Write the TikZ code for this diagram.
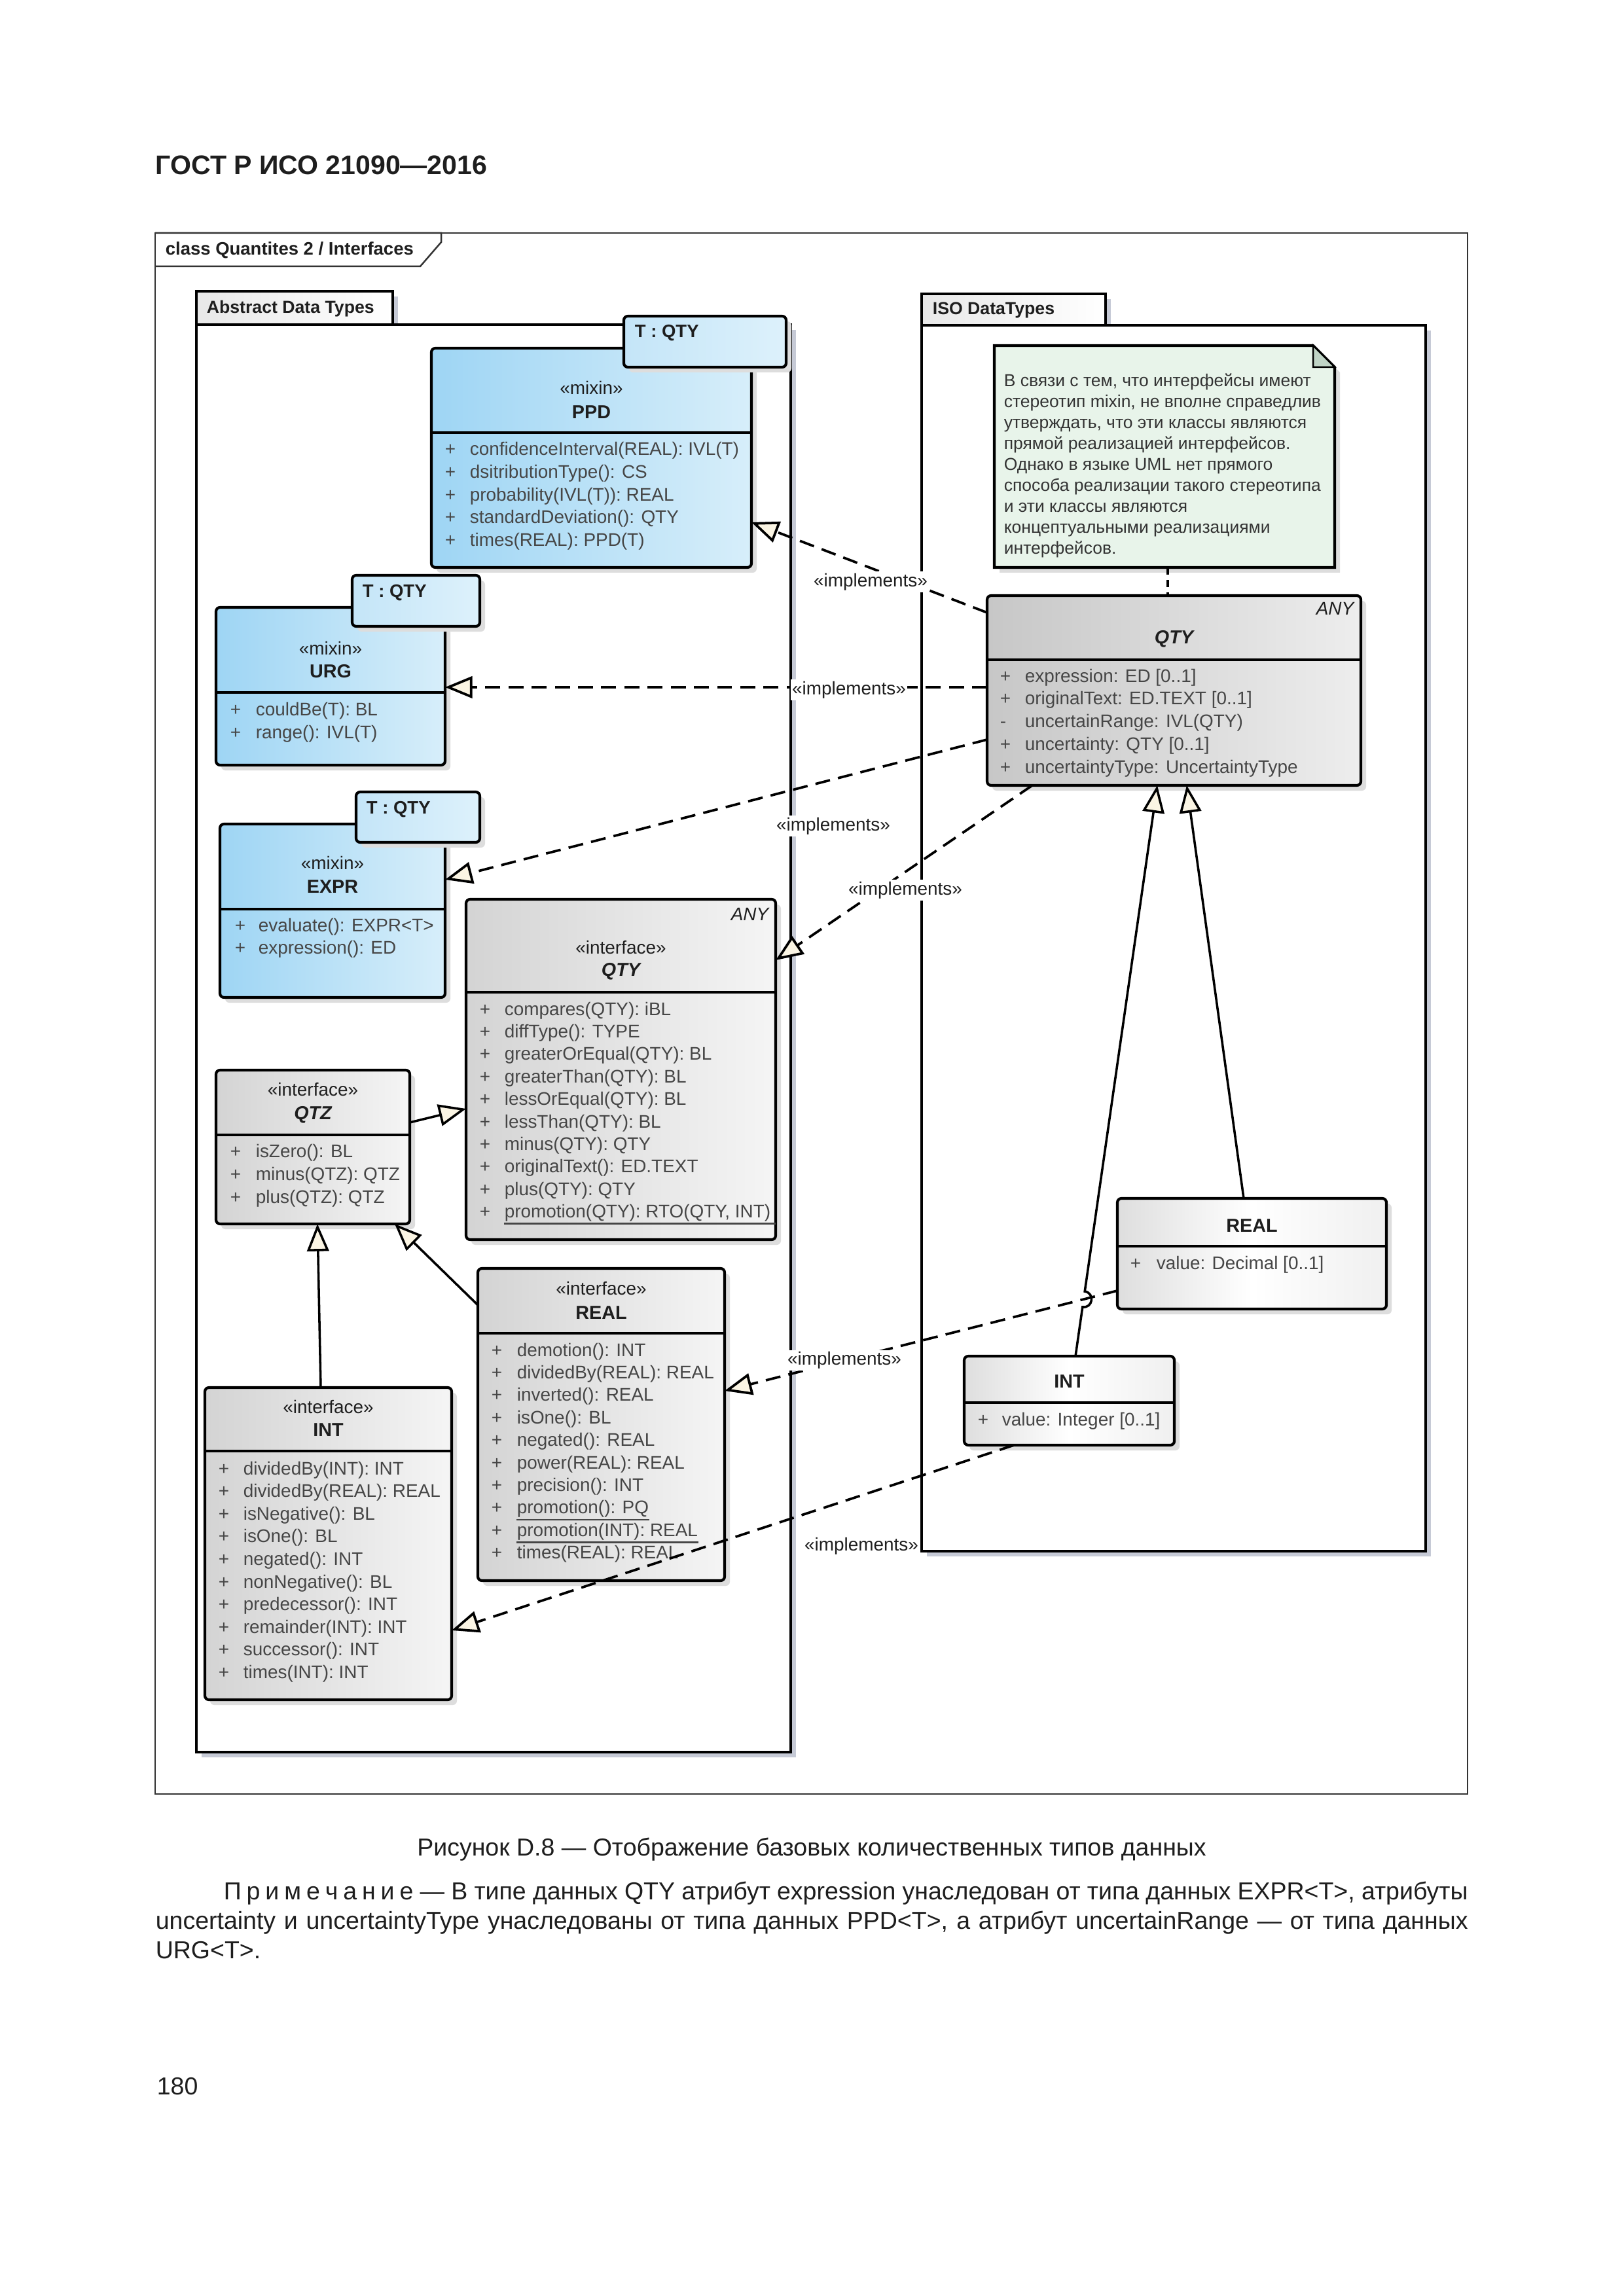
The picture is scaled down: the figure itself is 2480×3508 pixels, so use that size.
\documentclass[tikz,border=0pt]{standalone}
\usepackage{fontspec}
\setmainfont{Liberation Sans}
\usetikzlibrary{arrows.meta,fit}
\definecolor{mixL}{HTML}{9ED5F4}
\definecolor{mixR}{HTML}{D7EEFA}
\definecolor{tL}{HTML}{C4E5F8}
\definecolor{tR}{HTML}{DDF1FB}
\definecolor{pkgsh}{HTML}{C6CAD6}
\definecolor{boxsh}{HTML}{DDDDDD}
\definecolor{notefill}{HTML}{E8F4EA}
\definecolor{notefold}{HTML}{C0D4C6}
\definecolor{cream}{HTML}{FBF5E4}
\definecolor{attrc}{HTML}{464646}
\definecolor{framec}{HTML}{333333}
\definecolor{txtc}{HTML}{1E1E1E}

\newcommand\umlbox[4]{%
  \fill[boxsh, rounded corners=1.5pt, shift={(8,8)}] #3 rectangle #4;
  \node[#2, fit={#3 #4}] (#1) {};}
\newcommand\umlpkg[4]{%
  \fill[pkgsh, shift={(8,8)}] #3 rectangle #4;
  \node[#2, fit={#3 #4}] (#1) {};}
\newcommand\umlattrs[6]{%
  \foreach \ms/\mt [count=\i from 0] in {#6} {
    \node[attr] (#1s\i) at (#2,{#4+\i*#5}) {\ms};
    \node[attr] (#1t\i) at (#3,{#4+\i*#5}) {\mt};
  }}

\tikzset{
  cbox/.style={draw=black, line width=1pt, rounded corners=1.5pt, inner sep=0pt, outer sep=0pt},
  mixinbox/.style={cbox, left color=mixL, right color=mixR},
  tbox/.style={cbox, left color=tL, right color=tR},
  ifbox/.style={cbox, left color=black!17, right color=black!4},
  isobox/.style={cbox, left color=black!22, right color=black!7},
  plainbox/.style={cbox, left color=black!13, right color=black!6, middle color=white},
  pkgbody/.style={draw=black, line width=0.85pt, fill=white, inner sep=0pt, outer sep=0pt},
  pkgtab/.style={pkgbody, left color=black!9, right color=white},
  sepline/.style={draw=black, line width=1pt},
  attr/.style={anchor=base west, inner sep=0pt, text=attrc, font=\fontsize{6.7}{8}\selectfont},
  stereo/.style={anchor=base, inner sep=0pt, text=txtc, font=\fontsize{6.7}{8}\selectfont},
  cname/.style={anchor=base, inner sep=0pt, text=txtc, font=\fontsize{6.9}{8}\selectfont\bfseries},
  cnamei/.style={anchor=base, inner sep=0pt, text=txtc, font=\fontsize{6.9}{8}\selectfont\bfseries\itshape},
  anylbl/.style={anchor=base east, inner sep=0pt, text=txtc, font=\fontsize{6.7}{8}\selectfont\itshape},
  tlbl/.style={anchor=base west, inner sep=0pt, text=txtc, font=\fontsize{6.6}{8}\selectfont\bfseries},
  pkglbl/.style={anchor=base west, inner sep=0pt, text=txtc, font=\fontsize{6.4}{8}\selectfont\bfseries},
  impl/.style={fill=white, inner sep=0.6pt, text=txtc, font=\fontsize{6.7}{8}\selectfont},
  realize/.style={draw=black, line width=0.9pt, dash pattern=on 5.5pt off 3pt, -{Triangle[length=10pt, width=8pt, fill=cream]}},
  gen/.style={draw=black, line width=0.85pt, -{Triangle[length=10pt, width=8pt, fill=cream]}},
  notelink/.style={draw=black, line width=0.9pt, dash pattern=on 2.6pt off 2pt},
  notetxt/.style={anchor=base west, inner sep=0pt, text=black!80, font=\fontsize{6.35}{8}\selectfont},
  body/.style={inner sep=0pt, text=txtc, font=\fontsize{9}{11}\selectfont},
}

\begin{document}
\begin{tikzpicture}[x=0.24pt,y=-0.24pt]
\useasboundingbox (0,0) rectangle (2480,3508);
\fill[white] (0,0) rectangle (2480,3508);

% header
\node[anchor=base west, inner sep=0pt, text=txtc, font=\fontsize{9.85}{12}\selectfont\bfseries] (hdr) at (237,267) {ГОСТ Р ИСО 21090—2016};

% outer frame
\node[draw=framec, line width=0.6pt, inner sep=0pt, outer sep=0pt, fit={(237,356) (2242,2741)}] (frame) {};
\draw[draw=framec, line width=0.6pt] (frame.north west) -- (674,356) -- (674,370) -- (642,407) -- (237,407);
\node[anchor=base west, inner sep=0pt, text=txtc, font=\fontsize{6.6}{8}\selectfont\bfseries] (ftitle) at (252,390) {class Quantites 2 / Interfaces};

% packages
\umlpkg{adttab}{pkgtab}{(300,445)}{(600,496)}
\umlpkg{adt}{pkgbody}{(300,496)}{(1208,2677)}
\node[pkglbl] (adtlbl) at (315,479) {Abstract Data Types};
\umlpkg{isotab}{pkgtab}{(1408,449)}{(1689,497)}
\umlpkg{iso}{pkgbody}{(1408,497)}{(2178,2370)}
\node[pkglbl] (isolbl) at (1424,481) {ISO DataTypes};

% PPD
\umlbox{ppd}{mixinbox}{(659,532)}{(1148,867)}
\umlbox{ppdt}{tbox}{(953,483)}{(1201,561)}
\node[tlbl] (ppdtl) at (969,516) {T : QTY};
\draw[sepline] (ppd.west |- 0,661) -- (ppd.east |- 0,661);
\node[stereo] (ppdst) at (ppd.center |- 0,603) {«mixin»};
\node[cname] (ppdn) at (ppd.center |- 0,640) {PPD};
\umlattrs{ppd}{679}{717}{696}{34.6}{+/{confidenceInterval(REAL): IVL(T)}, +/{dsitributionType(): CS}, +/{probability(IVL(T)): REAL}, +/{standardDeviation(): QTY}, +/{times(REAL): PPD(T)}}

% URG
\umlbox{urg}{mixinbox}{(330,928)}{(680,1169)}
\umlbox{urgt}{tbox}{(538,879)}{(733,957)}
\node[tlbl] (urgtl) at (553,913) {T : QTY};
\draw[sepline] (urg.west |- 0,1058) -- (urg.east |- 0,1058);
\node[stereo] (urgst) at (urg.center |- 0,1000) {«mixin»};
\node[cname] (urgn) at (urg.center |- 0,1035) {URG};
\umlattrs{urg}{351}{390}{1093}{35}{+/{couldBe(T): BL}, +/{range(): IVL(T)}}

% EXPR
\umlbox{expr}{mixinbox}{(336,1259)}{(680,1524)}
\umlbox{exprt}{tbox}{(544,1210)}{(733,1287)}
\node[tlbl] (exprtl) at (559,1243) {T : QTY};
\draw[sepline] (expr.west |- 0,1389) -- (expr.east |- 0,1389);
\node[stereo] (exprst) at (expr.center |- 0,1328) {«mixin»};
\node[cname] (exprn) at (expr.center |- 0,1364) {EXPR};
\umlattrs{expr}{358}{394}{1423}{34.5}{+/{evaluate(): EXPR<T>}, +/{expression(): ED}}

% interface QTY
\umlbox{qtyi}{ifbox}{(712,1374)}{(1185,1894)}
\draw[sepline] (qtyi.west |- 0,1516) -- (qtyi.east |- 0,1516);
\node[anylbl] (qtyiany) at (1175,1406) {ANY};
\node[stereo] (qtyist) at (qtyi.center |- 0,1457) {«interface»};
\node[cnamei] (qtyin) at (qtyi.center |- 0,1491) {QTY};
\umlattrs{qtyi}{732}{770}{1551}{34.4}{+/{compares(QTY): iBL}, +/{diffType(): TYPE}, +/{greaterOrEqual(QTY): BL}, +/{greaterThan(QTY): BL}, +/{lessOrEqual(QTY): BL}, +/{lessThan(QTY): BL}, +/{minus(QTY): QTY}, +/{originalText(): ED.TEXT}, +/{plus(QTY): QTY}, +/{promotion(QTY): RTO(QTY, INT)}}
\draw[draw=attrc, line width=0.7pt] ([yshift=-2.2pt]qtyit9.base west) -- ([yshift=-2.2pt]qtyit9.base west -| qtyi.east);

% QTZ
\umlbox{qtz}{ifbox}{(330,1635)}{(626,1870)}
\draw[sepline] (qtz.west |- 0,1734) -- (qtz.east |- 0,1734);
\node[stereo] (qtzst) at (qtz.center |- 0,1674) {«interface»};
\node[cnamei] (qtzn) at (qtz.center |- 0,1710) {QTZ};
\umlattrs{qtz}{351}{390}{1768}{35}{+/{isZero(): BL}, +/{minus(QTZ): QTZ}, +/{plus(QTZ): QTZ}}

% interface REAL
\umlbox{reali}{ifbox}{(730,1938)}{(1107,2415)}
\draw[sepline] (reali.west |- 0,2037) -- (reali.east |- 0,2037);
\node[stereo] (realist) at (reali.center |- 0,1978) {«interface»};
\node[cname] (realin) at (reali.center |- 0,2015) {REAL};
\umlattrs{reali}{750}{789}{2072}{34.4}{+/{demotion(): INT}, +/{dividedBy(REAL): REAL}, +/{inverted(): REAL}, +/{isOne(): BL}, +/{negated(): REAL}, +/{power(REAL): REAL}, +/{precision(): INT}, +/{promotion(): PQ}, +/{promotion(INT): REAL}, +/{times(REAL): REAL}}
\draw[draw=attrc, line width=0.7pt] ([yshift=-2.2pt]realit7.base west) -- ([yshift=-2.2pt]realit7.base east);
\draw[draw=attrc, line width=0.7pt] ([yshift=-2.2pt]realit8.base west) -- ([yshift=-2.2pt]realit8.base east);

% interface INT
\umlbox{inti}{ifbox}{(313,2120)}{(690,2597)}
\draw[sepline] (inti.west |- 0,2217) -- (inti.east |- 0,2217);
\node[stereo] (intist) at (inti.center |- 0,2159) {«interface»};
\node[cname] (intin) at (inti.center |- 0,2194) {INT};
\umlattrs{inti}{333}{371}{2253}{34.6}{+/{dividedBy(INT): INT}, +/{dividedBy(REAL): REAL}, +/{isNegative(): BL}, +/{isOne(): BL}, +/{negated(): INT}, +/{nonNegative(): BL}, +/{predecessor(): INT}, +/{remainder(INT): INT}, +/{successor(): INT}, +/{times(INT): INT}}

% note
\node[inner sep=0pt, outer sep=0pt, fit={(1519,528) (2039,867)}] (note) {};
\fill[boxsh] (1527,536) -- (2014,536) -- (2047,569) -- (2047,875) -- (1527,875) -- cycle;
\filldraw[fill=notefill, draw=black, line width=1pt] (note.north west) -- ([xshift=-7.92pt]note.north east) -- ([yshift=-7.92pt]note.north east) -- (note.south east) -- (note.south west) -- cycle;
\filldraw[fill=notefold, draw=black, line width=0.6pt] ([xshift=-7.92pt]note.north east) -- ([xshift=-7.92pt,yshift=-7.92pt]note.north east) -- ([yshift=-7.92pt]note.north east) -- cycle;
\foreach \ln [count=\i from 0] in {{В связи с тем, что интерфейсы имеют}, {стереотип mixin, не вполне справедлив}, {утверждать, что эти классы являются}, {прямой реализацией интерфейсов.}, {Однако в языке UML нет прямого}, {способа реализации такого стереотипа}, {и эти классы являются}, {концептуальными реализациями}, {интерфейсов.}}
  \node[notetxt] (nt\i) at (1533,{591+\i*31.9}) {\ln};

% ISO QTY
\umlbox{qtyiso}{isobox}{(1508,910)}{(2079,1200)}
\draw[sepline] (qtyiso.west |- 0,1008) -- (qtyiso.east |- 0,1008);
\node[anylbl] (qtyisoany) at (2069,940) {ANY};
\node[cnamei] (qtyison) at (qtyiso.center |- 0,984) {QTY};
\umlattrs{qtyiso}{1527}{1565}{1042}{34.75}{+/{expression: ED [0..1]}, +/{originalText: ED.TEXT [0..1]}, -/{uncertainRange: IVL(QTY)}, +/{uncertainty: QTY [0..1]}, +/{uncertaintyType: UncertaintyType}}

% ISO REAL
\umlbox{isoreal}{plainbox}{(1707,1831)}{(2118,2000)}
\draw[sepline] (isoreal.west |- 0,1904) -- (isoreal.east |- 0,1904);
\node[cname] (isorealn) at (isoreal.center |- 0,1882) {REAL};
\umlattrs{isoreal}{1726}{1766}{1939}{0}{+/{value: Decimal [0..1]}}

% ISO INT
\umlbox{isoint}{plainbox}{(1473,2072)}{(1794,2208)}
\draw[sepline] (isoint.west |- 0,2143) -- (isoint.east |- 0,2143);
\node[cname] (isointn) at (isoint.center |- 0,2120) {INT};
\umlattrs{isoint}{1493}{1530}{2178}{0}{+/{value: Integer [0..1]}}

% connectors
\draw[notelink] (note.south -| 1784,0) -- (qtyiso.north -| 1784,0);
\draw[realize] (qtyiso.west |- 0,936) -- (ppd.east |- 0,798);
\draw[realize] (qtyiso.west |- 0,1050) -- (urg.east |- 0,1050);
\draw[realize] (qtyiso.west |- 0,1130) -- (expr.east |- 0,1344);
\draw[realize] (qtyiso.south -| 1577,0) -- (qtyi.east |- 0,1467);
\draw[realize] (isoreal.west |- 0,1972) -- (reali.east |- 0,2125);
\draw[realize] (isoint.south -| 1549,0) -- (inti.east |- 0,2491);
\draw[gen] (qtz.east |- 0,1715) -- (qtyi.west |- 0,1694);
\draw[gen] (reali.west |- 0,1994) -- (qtz.south -| 603,0);
\draw[gen] (inti.north -| 490,0) -- (qtz.south -| 485,0);
\draw[gen] (isoreal.north -| 1900,0) -- (qtyiso.south -| 1813,0);
\draw[gen] (isoint.north -| 1643,0) -- (1653.8,1996.9) .. controls (1669.6,1999.2) and (1673.0,1975.4) .. (1657.2,1973.1) -- (qtyiso.south -| 1768,0);

% labels
\node[impl] (lb1) at (1330,889) {«implements»};
\node[impl] (lb2) at (1297,1054) {«implements»};
\node[impl] (lb3) at (1273,1262) {«implements»};
\node[impl] (lb4) at (1383,1360) {«implements»};
\node[impl] (lb5) at (1290,2078) {«implements»};
\node[impl] (lb6) at (1316,2362) {«implements»};

% caption and note
\node[body, anchor=base] (cap) at (1240,2835) {Рисунок D.8 — Отображение базовых количественных типов данных};
\node[body, anchor=base west] (np1) at (341,2902) {\makebox[456.2pt][s]{П\kern1.9pt р\kern1.9pt и\kern1.9pt м\kern1.9pt е\kern1.9pt ч\kern1.9pt а\kern1.9pt н\kern1.9pt и\kern1.9pt е — В типе данных QTY атрибут expression унаследован от типа данных EXPR<T>, атрибуты}};
\node[body, anchor=base west] (np2) at (237,2947) {\makebox[481.2pt][s]{uncertainty и uncertaintyType унаследованы от типа данных PPD<T>, а атрибут uncertainRange — от типа данных}};
\node[body, anchor=base west] (np3) at (237,2992) {URG<T>.};
\node[body, anchor=base west] (pgnum) at (239,3200) {180};
\end{tikzpicture}
\end{document}
